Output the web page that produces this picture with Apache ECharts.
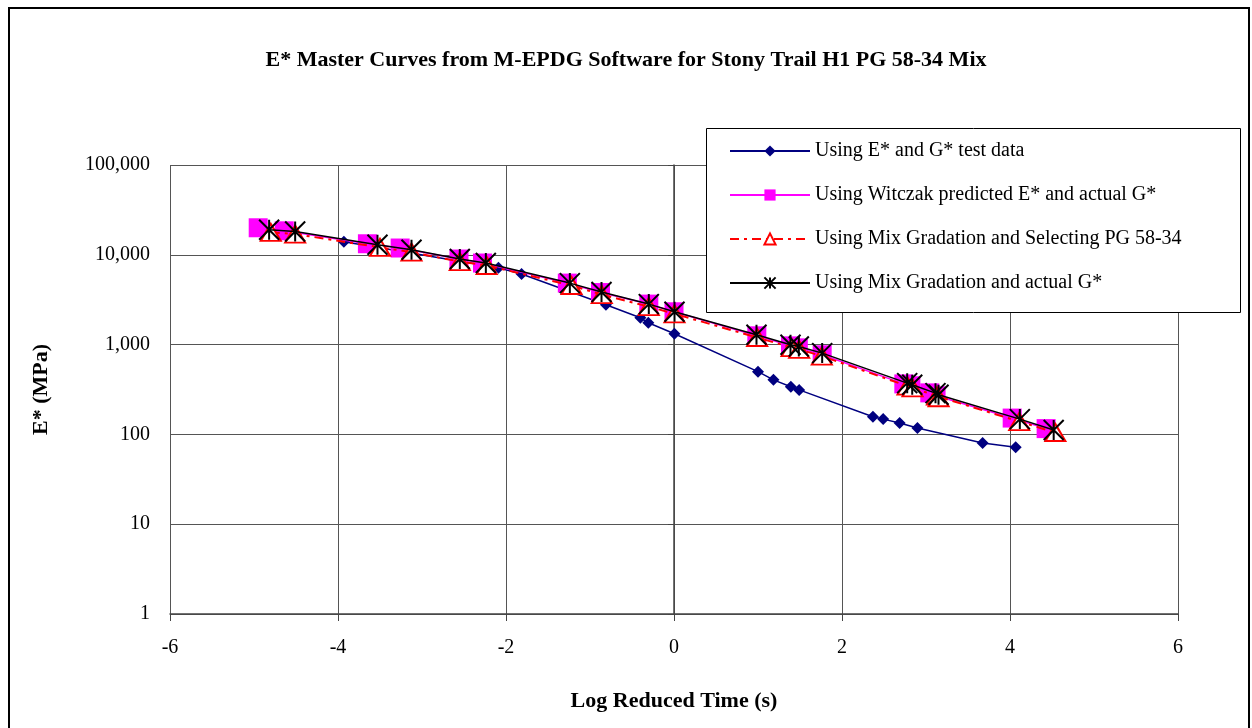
<!DOCTYPE html>
<html>
<head>
<meta charset="utf-8">
<script src="https://cdn.jsdelivr.net/npm/echarts@6/dist/echarts.min.js"></script>
<style>
html,body{margin:0;padding:0;background:#fff;}
#chart{width:1252px;height:728px;}
</style>
</head>
<body>
<div id="chart"></div>
<script>
// Data
const seriesNames = [
  'Using E* and G* test data',
  'Using Witczak predicted E* and actual G*',
  'Using Mix Gradation and Selecting PG 58-34',
  'Using Mix Gradation and actual G*'
];
const testX = [-3.93, -2.09, -1.815, -0.81, -0.40, -0.306, 0.005, 1.0, 1.184, 1.391, 1.49, 2.368, 2.49, 2.686, 2.898, 3.674, 4.068];
const testY = [13970, 7170, 6100, 2775, 1990, 1750, 1320, 500, 405, 339, 313, 157, 148, 134, 118, 80, 72];

const witX = [-4.95, -4.64, -3.65, -3.26, -2.56, -2.28, -1.27, -0.875, -0.30, 0.0, 0.986, 1.387, 1.48, 1.764, 2.736, 2.82, 3.045, 3.12, 4.026, 4.43];
const witY = [20000, 18500, 13270, 11900, 8970, 8100, 4840, 3800, 2825, 2320, 1253, 968, 920, 770, 365, 348, 290, 269, 152, 116];

const pgX = [-4.80, -4.51, -3.50, -3.125, -2.55, -2.23, -1.22, -0.86, -0.30, 0.006, 0.99, 1.40, 1.49, 1.76, 2.78, 2.84, 3.13, 3.15, 4.11, 4.54];
const pgY = [17800, 17000, 12100, 10700, 8400, 7600, 4550, 3600, 2650, 2200, 1200, 925, 885, 745, 345, 330, 267, 256, 139, 105];

const actX = [-4.82, -4.51, -3.53, -3.125, -2.55, -2.24, -1.24, -0.863, -0.30, 0.006, 0.982, 1.387, 1.486, 1.764, 2.776, 2.836, 3.113, 3.149, 4.117, 4.52];
const actY = [19000, 18200, 12940, 11380, 8970, 8090, 4840, 3845, 2825, 2320, 1290, 995, 952, 804, 372, 357, 288, 276, 148, 112];

const xTicks = [-6, -4, -2, 0, 2, 4, 6];
const yTicks = [1, 10, 100, 1000, 10000, 100000];

function pairs(xs, ys) { return xs.map((x, i) => [x, ys[i]]); }

const FONT = '"Liberation Serif", "Times New Roman", serif';
const chart = echarts.init(document.getElementById('chart'), null, {renderer: 'canvas'});

const asterisk = 'path://M0,0 L10,10 M10,0 L0,10 M5,0 L5,10';

chart.setOption({
  animation: false,
  backgroundColor: '#fff',
  title: {
    text: 'E* Master Curves from M-EPDG Software for Stony Trail H1 PG 58-34 Mix',
    left: 'center',
    top: 44,
    textStyle: {fontFamily: FONT, fontSize: 22, fontWeight: 'bold', color: '#000'}
  },
  graphic: [{
    type: 'rect',
    shape: {x: 9, y: 8, width: 1240, height: 740},
    style: {fill: 'none', stroke: '#000', lineWidth: 2},
    silent: true, z: 0
  }, {
    type: 'rect',
    shape: {x: 706.5, y: 128.5, width: 534, height: 184},
    style: {fill: '#fff', stroke: '#000', lineWidth: 1},
    silent: true, z: 10
  }],
  legend: {
    orient: 'vertical',
    left: 729,
    top: 141,
    padding: 0,
    itemGap: 24,
    itemWidth: 80,
    itemHeight: 14,
    z: 20,
    textStyle: {fontFamily: FONT, fontSize: 20, color: '#000'},
    data: seriesNames
  },
  grid: {left: 170, right: 74, top: 165, bottom: 114, containLabel: false},
  xAxis: {
    type: 'value',
    min: -6, max: 6, interval: 2,
    name: 'Log Reduced Time (s)',
    nameLocation: 'middle',
    nameGap: 76,
    nameTextStyle: {fontFamily: FONT, fontSize: 22, fontWeight: 'bold', color: '#000'},
    axisLine: {show: true, onZero: false, lineStyle: {color: '#444', width: 1.5}},
    axisTick: {show: true, inside: false, length: 7, lineStyle: {color: '#444'}},
    axisLabel: {fontFamily: FONT, fontSize: 20, color: '#000', margin: 24,
      formatter: v => xTicks.includes(v) ? String(v) : ''},
    splitLine: {show: true, lineStyle: {color: '#555', width: 1}}
  },
  yAxis: {
    type: 'log',
    logBase: 10,
    min: 1, max: 100000,
    name: 'E* (MPa)',
    nameLocation: 'middle',
    nameGap: 118,
    nameRotate: 90,
    nameTextStyle: {fontFamily: FONT, fontSize: 22, fontWeight: 'bold', color: '#000'},
    axisLine: {show: true, lineStyle: {color: '#444', width: 1.5}},
    axisTick: {show: true, inside: false, length: 6, lineStyle: {color: '#444'}},
    axisLabel: {fontFamily: FONT, fontSize: 20, color: '#000', margin: 20,
      formatter: v => Math.round(v).toLocaleString('en-US')},
    splitLine: {show: true, lineStyle: {color: '#555', width: 1}},
    minorTick: {show: false}
  },
  series: [
    {
      name: seriesNames[0], type: 'line', data: pairs(testX, testY),
      symbol: 'diamond', symbolSize: 12,
      lineStyle: {color: '#000080', width: 1.5},
      itemStyle: {color: '#000080'}, z: 2
    },
    {
      name: seriesNames[1], type: 'line', data: pairs(witX, witY),
      symbol: 'rect', symbolSize: 19,
      lineStyle: {color: '#ff00ff', width: 1.5},
      itemStyle: {color: '#ff00ff'}, z: 3
    },
    {
      name: seriesNames[2], type: 'line', data: pairs(pgX, pgY),
      symbol: 'triangle', symbolSize: [20, 17],
      lineStyle: {color: '#ff0000', width: 2, type: [9, 5, 3, 5]},
      itemStyle: {color: '#fff', borderColor: '#ff0000', borderWidth: 2}, z: 4
    },
    {
      name: seriesNames[3], type: 'line', data: pairs(actX, actY),
      symbol: asterisk, symbolSize: 20,
      lineStyle: {color: '#000', width: 1.5},
      itemStyle: {color: 'rgba(0,0,0,0)', borderColor: '#000', borderWidth: 2}, z: 5
    }
  ]
});
</script>
</body>
</html>
